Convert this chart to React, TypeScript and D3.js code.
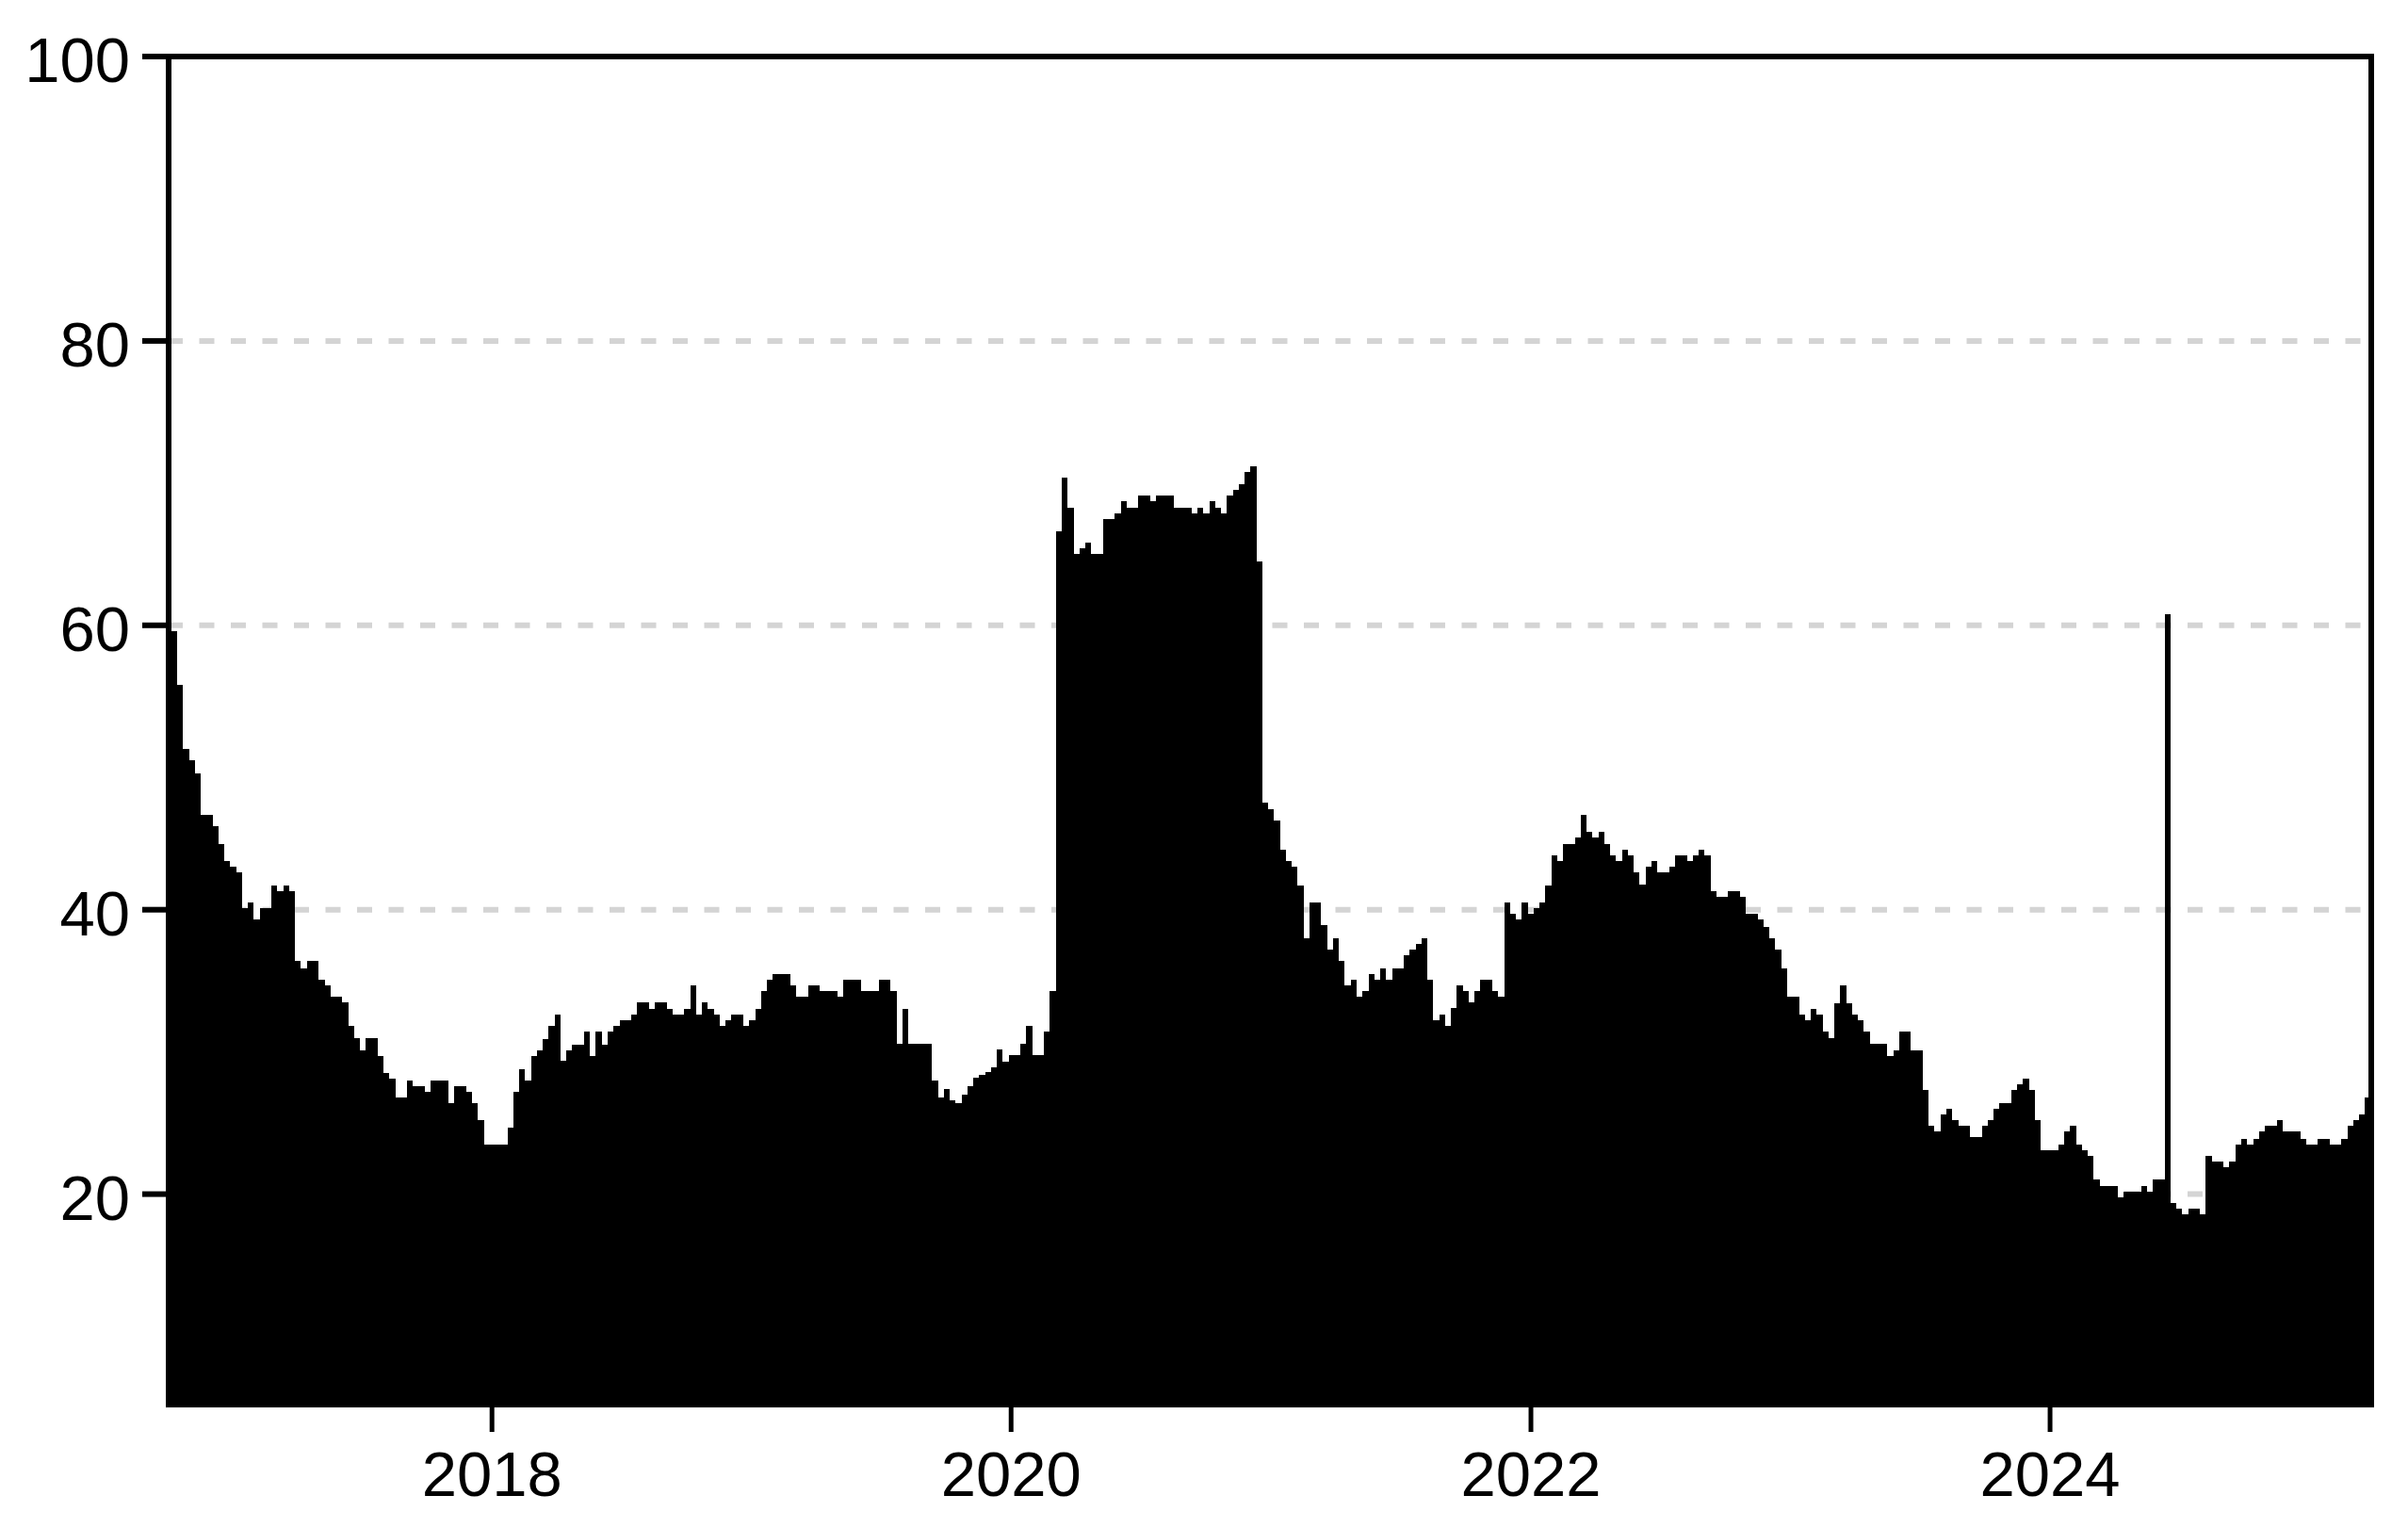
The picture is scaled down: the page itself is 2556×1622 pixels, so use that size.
import React, { useEffect, useRef } from "react";
import * as d3 from "d3";

const WIDTH = 2556;
const HEIGHT = 1622;
const PLOT_LEFT = 178;
const PLOT_RIGHT = 2518;
const PLOT_TOP = 60;
const PLOT_BOTTOM = 1494;
const FONT = "'Liberation Sans', Arial, sans-serif";

// series: one value every ~8.3 days starting early Oct 2016
const seriesStart = new Date(2016, 9, 7);
const stepDays = 8.293;
const values = [
  59.6, 55.8, 51.3, 50.5, 49.6, 46.7, 46.7, 45.9, 44.6, 43.4,
  43.0, 42.6, 40.1, 40.5, 39.3, 40.1, 40.1, 41.7, 41.3, 41.7,
  41.3, 36.4, 35.9, 36.4, 36.4, 35.1, 34.7, 33.9, 33.9, 33.5,
  31.8, 31.0, 30.1, 31.0, 31.0, 29.7, 28.5, 28.1, 26.8, 26.8,
  28.0, 27.6, 27.6, 27.2, 28.0, 28.0, 28.0, 26.4, 27.6, 27.6,
  27.2, 26.4, 25.2, 23.5, 23.5, 23.5, 23.5, 24.7, 27.2, 28.8,
  28.0, 29.7, 30.1, 30.9, 31.8, 32.6, 29.4, 30.1, 30.5, 30.5,
  31.4, 29.7, 31.4, 30.5, 31.4, 31.8, 32.2, 32.2, 32.6, 33.5,
  33.5, 33.0, 33.5, 33.5, 33.0, 32.6, 32.6, 33.0, 34.7, 32.6,
  33.5, 33.0, 32.6, 31.8, 32.2, 32.6, 32.6, 31.8, 32.2, 33.0,
  34.3, 35.1, 35.5, 35.5, 35.5, 34.7, 33.9, 33.9, 34.7, 34.7,
  34.3, 34.3, 34.3, 33.9, 35.1, 35.1, 35.1, 34.3, 34.3, 34.3,
  35.1, 35.1, 34.3, 30.6, 33.0, 30.6, 30.6, 30.6, 30.6, 28.0,
  26.8, 27.4, 26.6, 26.4, 27.0, 27.6, 28.2, 28.4, 28.6, 28.9,
  30.2, 29.3, 29.8, 29.8, 30.6, 31.8, 29.8, 29.8, 31.4, 34.3,
  66.6, 70.4, 68.3, 65.0, 65.4, 65.8, 65.0, 65.0, 67.5, 67.5,
  67.9, 68.7, 68.3, 68.3, 69.1, 69.1, 68.7, 69.1, 69.1, 69.1,
  68.3, 68.3, 68.3, 67.9, 68.3, 67.9, 68.7, 68.3, 67.9, 69.1,
  69.5, 69.9, 70.8, 71.2, 64.5, 47.5, 47.1, 46.3, 44.2, 43.4,
  43.0, 41.7, 38.0, 40.5, 40.5, 38.9, 37.2, 38.0, 36.4, 34.7,
  35.1, 33.9, 34.3, 35.5, 35.1, 35.9, 35.1, 35.9, 35.9, 36.8,
  37.2, 37.6, 38.0, 35.1, 32.2, 32.6, 31.8, 33.1, 34.7, 34.3,
  33.5, 34.3, 35.1, 35.1, 34.3, 33.9, 40.5, 39.7, 39.3, 40.5,
  39.7, 40.1, 40.5, 41.7, 43.8, 43.4, 44.6, 44.6, 45.1, 46.7,
  45.5, 45.1, 45.5, 44.6, 43.8, 43.4, 44.2, 43.8, 42.6, 41.8,
  43.0, 43.4, 42.6, 42.6, 43.0, 43.8, 43.8, 43.4, 43.8, 44.2,
  43.8, 41.3, 40.9, 40.9, 41.3, 41.3, 40.9, 39.7, 39.7, 39.3,
  38.8, 38.0, 37.2, 35.9, 33.9, 33.9, 32.6, 32.2, 33.0, 32.6,
  31.4, 31.0, 33.4, 34.7, 33.4, 32.6, 32.2, 31.4, 30.6, 30.6,
  30.6, 29.7, 30.1, 31.4, 31.4, 30.1, 30.1, 27.3, 24.8, 24.4,
  25.6, 26.0, 25.2, 24.8, 24.8, 24.0, 24.0, 24.8, 25.2, 26.0,
  26.4, 26.4, 27.3, 27.7, 28.1, 27.3, 25.2, 23.1, 23.1, 23.1,
  23.5, 24.4, 24.8, 23.5, 23.1, 22.7, 21.0, 20.6, 20.6, 20.6,
  19.8, 20.2, 20.2, 20.2, 20.6, 20.2, 21.0, 21.0, 60.8, 19.4,
  19.0, 18.6, 19.0, 19.0, 18.6, 22.7, 22.3, 22.3, 21.9, 22.3,
  23.5, 23.9, 23.5, 23.9, 24.4, 24.8, 24.8, 25.2, 24.4, 24.4,
  24.4, 23.9, 23.5, 23.5, 23.9, 23.9, 23.5, 23.5, 23.9, 24.8,
  25.2, 25.6, 26.8,
];

const xDomain = [new Date(2016, 9, 2), new Date(2025, 2, 29)];
const yDomain = [5, 100];
const yTicks = [20, 40, 60, 80, 100];
const gridLines = [20, 40, 60, 80];
const xTickYears = [2018, 2020, 2022, 2024];

const App = () => {
  const svgRef = useRef<SVGSVGElement>(null);

  useEffect(() => {
    const svg = d3.select(svgRef.current);
    svg.selectAll("*").remove();

    const x = d3.scaleTime().domain(xDomain).range([PLOT_LEFT, PLOT_RIGHT]);
    const y = d3.scaleLinear().domain(yDomain).range([PLOT_BOTTOM, PLOT_TOP]);

    const dayMs = 864e5;
    const points = values.map((v, i) => ({
      date: new Date(seriesStart.getTime() + i * stepDays * dayMs),
      v,
    }));
    // closing point so the last step has a width
    points.push({
      date: new Date(seriesStart.getTime() + values.length * stepDays * dayMs),
      v: values[values.length - 1],
    });

    // dashed grid
    svg
      .append("g")
      .selectAll("line")
      .data(gridLines)
      .join("line")
      .attr("x1", PLOT_LEFT)
      .attr("x2", PLOT_RIGHT)
      .attr("y1", (d) => y(d))
      .attr("y2", (d) => y(d))
      .attr("stroke", "#d4d4d4")
      .attr("stroke-width", 6)
      .attr("stroke-dasharray", "16,17.5");

    const area = d3
      .area<{ date: Date; v: number }>()
      .x((d) => x(d.date))
      .y0(y(yDomain[0]))
      .y1((d) => y(d.v))
      .curve(d3.curveStepAfter);

    svg
      .append("path")
      .datum(points)
      .attr("d", area)
      .attr("fill", "#000")
      .attr("shape-rendering", "crispEdges");

    // frame: left, top, right
    const frame = svg.append("g").attr("stroke", "#000").attr("stroke-width", 6);
    frame.append("line").attr("x1", 179).attr("x2", 179).attr("y1", PLOT_TOP - 3).attr("y2", PLOT_BOTTOM);
    frame.append("line").attr("x1", 176).attr("x2", 2520).attr("y1", PLOT_TOP).attr("y2", PLOT_TOP);
    frame.append("line").attr("x1", 2517).attr("x2", 2517).attr("y1", PLOT_TOP - 3).attr("y2", PLOT_BOTTOM);

    // y axis ticks + labels
    const yAxis = svg.append("g");
    yAxis
      .selectAll("line")
      .data(yTicks)
      .join("line")
      .attr("x1", 151)
      .attr("x2", 179)
      .attr("y1", (d) => y(d))
      .attr("y2", (d) => y(d))
      .attr("stroke", "#000")
      .attr("stroke-width", 6);
    yAxis
      .selectAll("text")
      .data(yTicks)
      .join("text")
      .attr("x", 138)
      .attr("y", (d) => y(d) + 27)
      .attr("text-anchor", "end")
      .attr("font-family", FONT)
      .attr("font-size", 67)
      .attr("fill", "#000")
      .text((d) => d);

    // x axis ticks + labels
    const xAxis = svg.append("g");
    xAxis
      .selectAll("line")
      .data(xTickYears)
      .join("line")
      .attr("x1", (d) => x(new Date(d, 0, 1)))
      .attr("x2", (d) => x(new Date(d, 0, 1)))
      .attr("y1", PLOT_BOTTOM)
      .attr("y2", PLOT_BOTTOM + 26)
      .attr("stroke", "#000")
      .attr("stroke-width", 5);
    xAxis
      .selectAll("text")
      .data(xTickYears)
      .join("text")
      .attr("x", (d) => x(new Date(d, 0, 1)))
      .attr("y", 1588)
      .attr("text-anchor", "middle")
      .attr("font-family", FONT)
      .attr("font-size", 67)
      .attr("fill", "#000")
      .text((d) => d);
  }, []);

  return (
    <svg
      ref={svgRef}
      width={WIDTH}
      height={HEIGHT}
      style={{ position: "absolute", left: 0, top: 0, background: "#fff" }}
    />
  );
};

export default App;
